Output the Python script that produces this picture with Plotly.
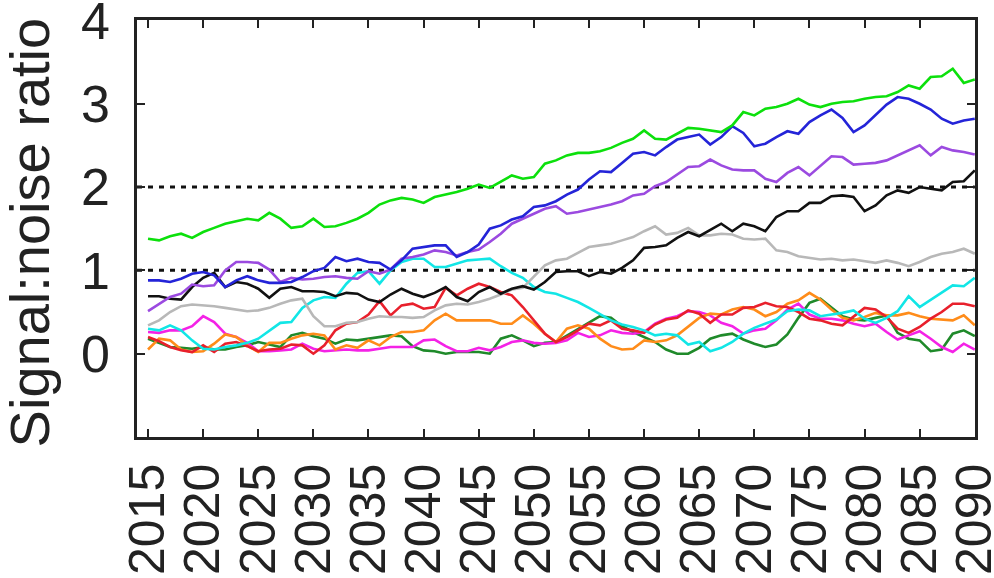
import plotly.graph_objects as go

years = list(range(2015, 2091))

green = [1.38, 1.36, 1.41, 1.44, 1.39, 1.46, 1.51, 1.56, 1.59, 1.62, 1.60, 1.69, 1.62, 1.51, 1.53, 1.62,
         1.52, 1.53, 1.57, 1.62, 1.69, 1.79, 1.84, 1.87, 1.85, 1.81, 1.88, 1.91, 1.94, 1.98, 2.03,
         1.99, 2.06, 2.14, 2.10, 2.12, 2.28, 2.32, 2.38, 2.41, 2.41, 2.43, 2.47, 2.53, 2.58, 2.68,
         2.58, 2.57, 2.64, 2.71, 2.70, 2.68, 2.66, 2.74, 2.90, 2.86, 2.94, 2.96, 3.00, 3.06, 2.99,
         2.96, 3.00, 3.02, 3.03, 3.06, 3.08, 3.09, 3.14, 3.22, 3.18, 3.32, 3.33, 3.42, 3.25, 3.29]

blue = [0.88, 0.88, 0.86, 0.90, 0.96, 0.98, 0.94, 0.80, 0.88, 0.93, 0.88, 0.85, 0.85, 0.86, 0.92, 0.99,
        1.03, 1.16, 1.11, 1.14, 1.10, 1.09, 1.01, 1.12, 1.26, 1.28, 1.30, 1.30, 1.16, 1.22, 1.31,
        1.50, 1.54, 1.61, 1.65, 1.76, 1.78, 1.83, 1.91, 1.97, 2.09, 2.19, 2.18, 2.29, 2.40, 2.42,
        2.38, 2.48, 2.57, 2.60, 2.63, 2.51, 2.60, 2.73, 2.65, 2.49, 2.52, 2.60, 2.67, 2.64, 2.78,
        2.86, 2.93, 2.83, 2.66, 2.74, 2.86, 2.99, 3.08, 3.06, 3.00, 2.93, 2.82, 2.76, 2.80, 2.82]

purple = [0.51, 0.59, 0.68, 0.72, 0.83, 0.81, 0.82, 1.00, 1.10, 1.10, 1.09, 1.01, 0.86, 0.91, 0.89, 0.90,
          0.92, 0.93, 0.91, 0.90, 0.99, 0.96, 1.01, 1.14, 1.16, 1.19, 1.24, 1.22, 1.18, 1.22, 1.25,
          1.34, 1.44, 1.56, 1.62, 1.68, 1.74, 1.77, 1.68, 1.70, 1.73, 1.76, 1.79, 1.83, 1.90, 1.92,
          2.01, 2.06, 2.15, 2.24, 2.25, 2.33, 2.26, 2.21, 2.20, 2.20, 2.10, 2.06, 2.17, 2.24, 2.14,
          2.25, 2.37, 2.36, 2.27, 2.28, 2.29, 2.32, 2.38, 2.44, 2.50, 2.38, 2.48, 2.44, 2.42, 2.39]

black = [0.69, 0.69, 0.66, 0.65, 0.80, 0.91, 0.97, 0.80, 0.86, 0.84, 0.78, 0.67, 0.78, 0.80, 0.75, 0.75,
         0.74, 0.69, 0.73, 0.72, 0.65, 0.62, 0.71, 0.78, 0.72, 0.68, 0.73, 0.80, 0.68, 0.63, 0.74,
         0.80, 0.72, 0.78, 0.81, 0.77, 0.86, 0.98, 0.99, 0.99, 0.93, 0.98, 0.96, 1.03, 1.12, 1.27,
         1.28, 1.30, 1.39, 1.46, 1.41, 1.48, 1.56, 1.47, 1.56, 1.53, 1.47, 1.64, 1.71, 1.71, 1.81,
         1.81, 1.89, 1.90, 1.88, 1.71, 1.78, 1.90, 1.96, 1.93, 2.00, 1.98, 1.96, 2.06, 2.07, 2.20]

gray = [0.34, 0.40, 0.50, 0.57, 0.59, 0.58, 0.57, 0.55, 0.53, 0.51, 0.52, 0.55, 0.60, 0.64, 0.66, 0.45,
        0.33, 0.33, 0.37, 0.38, 0.42, 0.45, 0.44, 0.44, 0.43, 0.44, 0.52, 0.58, 0.60, 0.59, 0.62,
        0.66, 0.71, 0.77, 0.79, 0.93, 1.06, 1.12, 1.14, 1.21, 1.28, 1.30, 1.32, 1.36, 1.40, 1.47,
        1.53, 1.43, 1.45, 1.51, 1.42, 1.42, 1.44, 1.43, 1.38, 1.37, 1.38, 1.24, 1.22, 1.17, 1.15,
        1.13, 1.14, 1.12, 1.13, 1.11, 1.09, 1.12, 1.09, 1.05, 1.10, 1.16, 1.20, 1.22, 1.26, 1.20]

cyan = [0.30, 0.28, 0.34, 0.28, 0.16, 0.06, 0.05, 0.08, 0.10, 0.13, 0.18, 0.28, 0.37, 0.38, 0.55, 0.64,
        0.68, 0.67, 0.84, 0.97, 0.99, 0.84, 1.00, 1.10, 1.14, 1.14, 1.04, 1.04, 1.08, 1.12, 1.13,
        1.14, 1.05, 0.97, 0.91, 0.80, 0.74, 0.72, 0.67, 0.62, 0.55, 0.48, 0.40, 0.35, 0.32, 0.28,
        0.22, 0.24, 0.22, 0.11, 0.14, 0.03, 0.07, 0.14, 0.24, 0.31, 0.36, 0.41, 0.51, 0.53, 0.52,
        0.45, 0.47, 0.49, 0.52, 0.42, 0.37, 0.43, 0.51, 0.69, 0.56, 0.65, 0.73, 0.82, 0.81, 0.91]

red = [0.20, 0.15, 0.08, 0.04, 0.02, 0.10, 0.02, 0.12, 0.14, 0.09, 0.03, 0.05, 0.06, 0.11, 0.10, 0.00,
       0.10, 0.28, 0.36, 0.38, 0.47, 0.63, 0.46, 0.58, 0.60, 0.54, 0.56, 0.79, 0.70, 0.78, 0.84,
       0.80, 0.74, 0.70, 0.56, 0.40, 0.24, 0.14, 0.20, 0.28, 0.36, 0.34, 0.40, 0.30, 0.28, 0.25,
       0.35, 0.41, 0.43, 0.52, 0.48, 0.37, 0.47, 0.47, 0.55, 0.56, 0.61, 0.57, 0.56, 0.50, 0.42,
       0.40, 0.36, 0.34, 0.44, 0.55, 0.53, 0.44, 0.30, 0.25, 0.32, 0.42, 0.50, 0.60, 0.60, 0.57]

orange = [0.05, 0.18, 0.16, 0.05, 0.02, 0.03, 0.12, 0.23, 0.20, 0.10, 0.02, 0.13, 0.13, 0.18, 0.22, 0.24,
          0.22, 0.05, 0.10, 0.07, 0.16, 0.10, 0.20, 0.26, 0.26, 0.28, 0.40, 0.48, 0.40, 0.40, 0.40,
          0.40, 0.36, 0.36, 0.46, 0.36, 0.24, 0.14, 0.30, 0.34, 0.30, 0.18, 0.09, 0.05, 0.06, 0.16,
          0.14, 0.16, 0.22, 0.32, 0.43, 0.48, 0.47, 0.53, 0.56, 0.53, 0.45, 0.50, 0.60, 0.64, 0.73,
          0.65, 0.53, 0.43, 0.40, 0.44, 0.49, 0.46, 0.46, 0.49, 0.45, 0.42, 0.41, 0.40, 0.46, 0.34]

magenta = [0.26, 0.25, 0.28, 0.28, 0.33, 0.45, 0.38, 0.24, 0.20, 0.13, 0.03, 0.03, 0.04, 0.05, 0.12, 0.06,
           0.03, 0.04, 0.05, 0.04, 0.04, 0.06, 0.08, 0.08, 0.08, 0.16, 0.17, 0.09, 0.03, 0.03, 0.07,
           0.04, 0.08, 0.14, 0.16, 0.13, 0.12, 0.13, 0.16, 0.25, 0.20, 0.22, 0.28, 0.25, 0.24, 0.26,
           0.36, 0.42, 0.45, 0.51, 0.50, 0.46, 0.37, 0.33, 0.24, 0.28, 0.30, 0.40, 0.53, 0.60, 0.47,
           0.42, 0.42, 0.40, 0.36, 0.33, 0.36, 0.26, 0.17, 0.22, 0.27, 0.18, 0.08, 0.02, 0.12, 0.05]

darkgreen = [0.18, 0.13, 0.08, 0.07, 0.06, 0.08, 0.05, 0.05, 0.08, 0.10, 0.14, 0.11, 0.08, 0.22, 0.25, 0.21,
             0.18, 0.12, 0.17, 0.16, 0.18, 0.20, 0.22, 0.21, 0.09, 0.04, 0.03, 0.00, 0.02, 0.02, 0.02,
             0.00, 0.18, 0.22, 0.16, 0.09, 0.13, 0.14, 0.22, 0.30, 0.38, 0.45, 0.43, 0.33, 0.26, 0.20,
             0.14, 0.05, 0.00, 0.00, 0.07, 0.18, 0.22, 0.24, 0.17, 0.12, 0.08, 0.11, 0.23, 0.43, 0.61,
             0.66, 0.56, 0.45, 0.41, 0.40, 0.43, 0.46, 0.25, 0.18, 0.16, 0.03, 0.05, 0.24, 0.28, 0.21]

thresholds = [1, 2]
y_ticks = [0, 1, 2, 3, 4]
x_ticks = list(range(2015, 2091, 5))

series = [
    ("dark green", darkgreen, "#1f8a2a"),
    ("magenta", magenta, "#f422e6"),
    ("orange", orange, "#ff8c1a"),
    ("red", red, "#e8202c"),
    ("cyan", cyan, "#12e6e6"),
    ("gray", gray, "#b8b8b8"),
    ("black", black, "#111111"),
    ("purple", purple, "#9b4ae0"),
    ("blue", blue, "#2424d8"),
    ("green", green, "#0ce00c"),
]

fig = go.Figure()

# dotted reference levels
for t in thresholds:
    fig.add_trace(go.Scatter(
        x=[2014, 2090], y=[t, t], mode="lines",
        line=dict(color="#111111", width=3, dash="5px,6px"),
        hoverinfo="skip", showlegend=False,
    ))

for name, vals, col in series:
    fig.add_trace(go.Scatter(
        x=years, y=vals, mode="lines", name=name,
        line=dict(color=col, width=2.6), showlegend=False,
    ))

font_family = "Liberation Sans, Arial, sans-serif"

fig.update_xaxes(
    range=[2014, 2090.02], tickvals=x_ticks, ticktext=[str(v) for v in x_ticks],
    tickangle=-90, tickfont=dict(family=font_family, size=50, color="#222222"),
    ticks="inside", ticklen=8, tickwidth=2, tickcolor="#222222",
    showline=True, linewidth=2.5, linecolor="#222222",
    mirror="ticks", showgrid=False, zeroline=False, automargin=False,
    ticklabelstandoff=4, ticklabeloverflow="allow",
)
fig.update_yaxes(
    range=[-1, 4.005], tickvals=y_ticks, ticktext=[str(v) for v in y_ticks],
    tickfont=dict(family=font_family, size=52, color="#222222"),
    ticks="inside", ticklen=8, tickwidth=2, tickcolor="#222222",
    showline=True, linewidth=2.5, linecolor="#222222", mirror="ticks",
    showgrid=False, zeroline=False, automargin=False,
    ticklabelstandoff=14, ticklabeloverflow="allow",
)

fig.add_annotation(
    text="Signal:noise ratio", xref="paper", yref="paper",
    x=-0.128, y=0.49, xanchor="center", yanchor="middle",
    textangle=-90, showarrow=False,
    font=dict(family=font_family, size=56, color="#222222"),
)

fig.update_layout(
    width=994, height=578,
    margin=dict(l=137, r=19, t=20, b=141, autoexpand=False),
    paper_bgcolor="white", plot_bgcolor="white",
    showlegend=False,
)

fig.write_html("out.html")
